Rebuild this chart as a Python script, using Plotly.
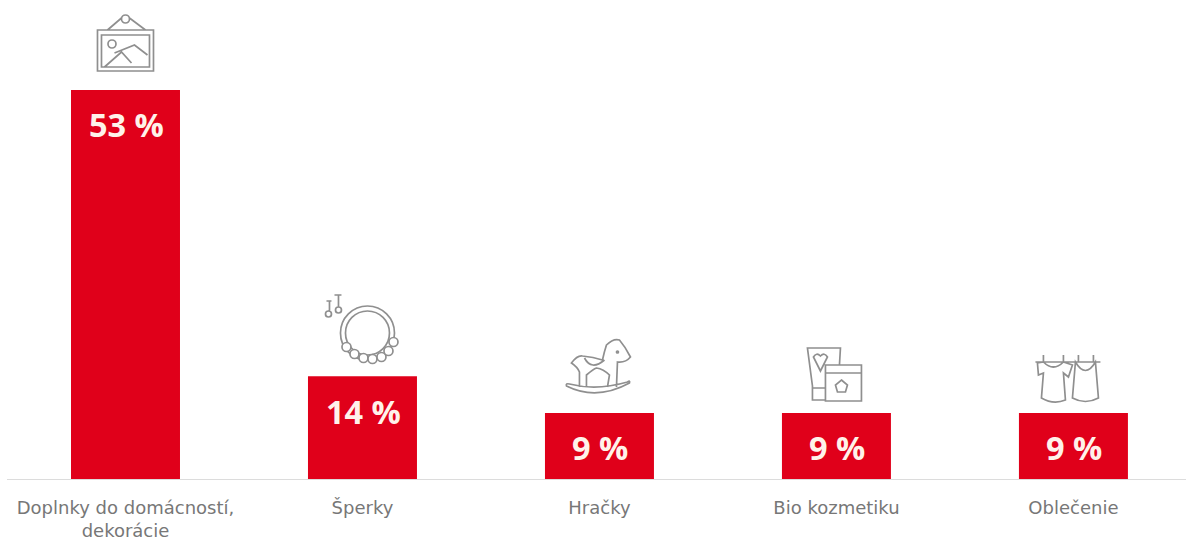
import plotly.graph_objects as go

categories = ["Doplnky do domácností,<br>dekorácie", "Šperky", "Hračky", "Bio kozmetiku", "Oblečenie"]
values = [53, 14, 9, 9, 9]
value_labels = ["53 %", "14 %", "9 %", "9 %", "9 %"]

RED = "#e0001a"
GREY = "#8f8f8f"


def circle(cx, cy, r):
    k = 0.552 * r
    return (
        f"M{cx - r},{cy} "
        f"C{cx - r},{cy + k} {cx - k},{cy + r} {cx},{cy + r} "
        f"C{cx + k},{cy + r} {cx + r},{cy + k} {cx + r},{cy} "
        f"C{cx + r},{cy - k} {cx + k},{cy - r} {cx},{cy - r} "
        f"C{cx - k},{cy - r} {cx - r},{cy - k} {cx - r},{cy} Z"
    )


# Line icons in pixels, relative to each bar's centre on the baseline (up is positive).
picture = " ".join([
    "M-28,408 H28 V449 H-28 Z",
    "M-24,412 H24 V444 H-24 Z",
    "M-21,412 L-4,427 L6,416",
    "M-11,426 L9,434 L22,424",
    "M-18,449 L-4,461 M20,449 L4,461",
    circle(-13.5, 435, 4),
    circle(0, 460, 4),
])

necklace_ring = " ".join([circle(5, 146, 27), circle(5, 146, 22)])
necklace_earrings = " ".join([
    circle(-34, 165, 3), "M-36,178 H-31 M-33,178 V168",
    circle(-24, 169, 3), "M-28,184 H-21 M-24,184 V172",
])
bead_offsets = [(-21, -14), (-13, -21), (-4, -25), (5, -26), (14, -24), (21, -18), (26, -9)]
necklace_beads = [circle(5 + dx, 146 + dy, 4.5) for dx, dy in bead_offsets]

horse = " ".join([
    "M-33,93 Q-3,78 30,96 Q31,99 28,97 Q-3,88 -30,95 Q-34,96 -33,93 Z",
    "M-20,92 L-20,107 Q-22,112 -28,116 Q-22,124 -17,123 Q-6,122 3,119 Q5,128 7,134 "
    "Q14,141 20,139 Q26,132 31,122 Q26,116 18,117 L17,92",
    "M-13,92 L-13,104 Q-6,110 -3,111 Q4,110 10,104 L8,92",
    "M-15,121 Q-8,108 5,119",
    circle(18, 127, 1),
])

cosmetics = " ".join([
    "M-11,79 H-24 L-24,93 L-29,131 H4 L3,114",
    "M-24,91 H-11",
    "M-16,108 L-23,122 Q-20,127 -16,123 Q-12,127 -9,122 Z",
    "M-11,78 H25 V114 H-11 Z",
    "M-11,106 H25",
    "M5,99 L11,94 L9,87 H1 L-1,94 Z",
])

clothes = " ".join([
    "M-38,117 H27",
    "M-30,117 V124 M-10,117 V124 M5,117 V124 M20,117 V124",
    "M-36,116 L-35,104 L-30,106 L-32,81 Q-20,74 -8,79 L-10,106 L-5,102 L-1,114 L-10,117 Q-20,107 -30,117 Z",
    "M2,117 L-1,81 Q12,74 25,81 L22,117 Q12,100 2,117 Z",
])

icons = [picture, necklace_ring, necklace_earrings, horse, cosmetics, clothes]
icon_slots = [0, 1, 1, 2, 3, 4]

fig = go.Figure(
    go.Bar(
        x=list(range(len(categories))),
        y=values,
        width=109 / 237,
        marker=dict(color=RED, line=dict(width=0)),
        hoverinfo="skip",
    )
)

for slot, path in zip(icon_slots, icons):
    fig.add_shape(
        type="path", path=path, xref="x", yref="y",
        xsizemode="pixel", ysizemode="pixel", xanchor=slot, yanchor=0,
        line=dict(color=GREY, width=1.7), fillcolor="rgba(0,0,0,0)",
    )

# Beads sit on top of the necklace ring, so they are filled white.
for path in necklace_beads:
    fig.add_shape(
        type="path", path=path, xref="x", yref="y",
        xsizemode="pixel", ysizemode="pixel", xanchor=1, yanchor=0,
        line=dict(color=GREY, width=1.7), fillcolor="white",
    )

for i, (v, label) in enumerate(zip(values, value_labels)):
    fig.add_annotation(
        x=i, y=v, xshift=1, yshift=-35, text=f"<b>{label}</b>", showarrow=False,
        font=dict(family="Open Sans", size=32.5, color="#fff2ea"),
    )

fig.update_layout(
    width=1186, height=542,
    margin=dict(l=7, r=0, t=0, b=63, autoexpand=False),
    paper_bgcolor="white", plot_bgcolor="white",
    showlegend=False,
    xaxis=dict(
        range=[-0.5, 4.475], tickmode="array",
        tickvals=list(range(len(categories))), ticktext=categories,
        showgrid=False, zeroline=False, ticks="",
        automargin=False, ticklabelstandoff=12,
        showline=True, linecolor="#dcdcdc", linewidth=1,
        tickfont=dict(family="DejaVu Sans", size=18, color="#777777"),
    ),
    yaxis=dict(range=[0, 65.26], visible=False, showgrid=False, zeroline=False),
)

fig.write_html("out.html", config=dict(displayModeBar=False))
